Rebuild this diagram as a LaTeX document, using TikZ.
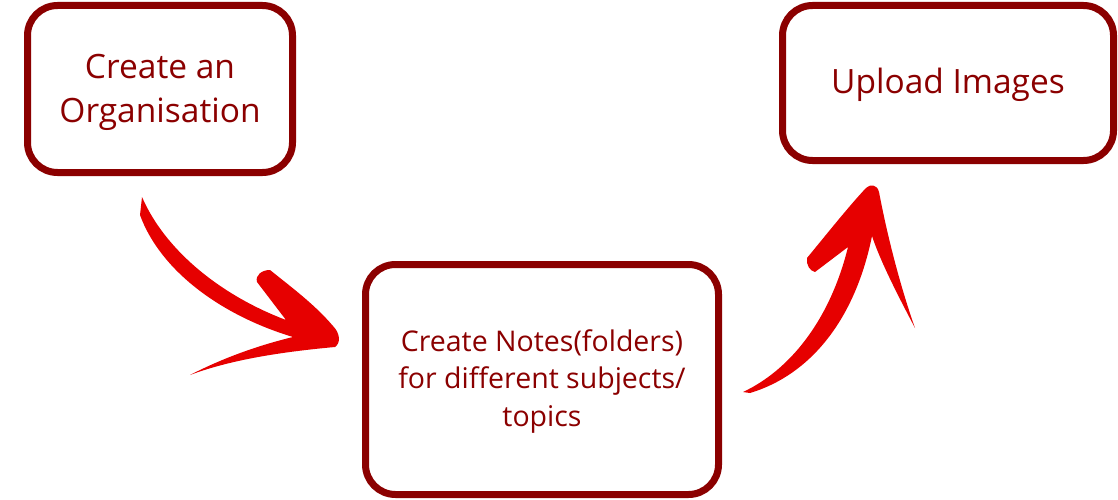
\documentclass[tikz,border=0pt]{standalone}
\usepackage{fontspec}
\setmainfont{Open Sans}
\definecolor{boxred}{HTML}{8B0000}
\definecolor{brush}{HTML}{E60000}
\begin{document}
\begin{tikzpicture}[x=1pt,y=-1pt,
  stepbox/.style={draw=boxred, line width=7pt, rounded corners=30pt, fill=white, inner sep=0pt},
  boxtext/.style={text=boxred, align=center, inner sep=0pt},
  brushfill/.style={fill=brush, draw=none}]
\useasboundingbox (0,0) rectangle (1118,500);
\node[stepbox, minimum width=265pt, minimum height=167pt] (org) at (160,89) {};
\node[boxtext, font=\fontsize{33.5}{44}\selectfont] (orgtext) at ([yshift=-3pt]org.center) {Create an\\Organisation};
\node[stepbox, minimum width=353pt, minimum height=230pt] (notes) at (542,379.5) {};
\node[boxtext, font=\fontsize{28.5}{37.5}\selectfont] (notestext) at ([yshift=-2pt]notes.center) {Create Notes(folders)\\for different subjects/\\topics};
\node[stepbox, minimum width=331pt, minimum height=155pt] (up) at (948,83) {};
\node[boxtext, font=\fontsize{33.5}{44}\selectfont] (uptext) at ([yshift=-2pt]up.center) {Upload Images};
% brush arrow org -> notes
\fill[brushfill] (142,197) .. controls (165,250) and (220,295) .. (286,320)
  -- (257,282) .. controls (255,275) and (262,270) .. (270,270)
  .. controls (295,290) and (315,305) .. (333,326)
  .. controls (340,333) and (341,343) .. (335,347)
  .. controls (280,352) and (230,360) .. (190,375)
  .. controls (225,357) and (260,345) .. (293,337)
  .. controls (220,315) and (160,270) .. (140,215) -- cycle;
% brush arrow notes -> up
\fill[brushfill] (743,392) .. controls (790,370) and (830,320) .. (848,247)
  -- (815,272) .. controls (810,271) and (806,265) .. (807,258)
  .. controls (830,230) and (850,205) .. (866,188)
  .. controls (870,184) and (877,184) .. (879,192)
  .. controls (890,250) and (905,300) .. (915,328)
  .. controls (895,290) and (880,260) .. (872,236)
  .. controls (855,320) and (810,375) .. (750,393) -- cycle;
\end{tikzpicture}
\end{document}
